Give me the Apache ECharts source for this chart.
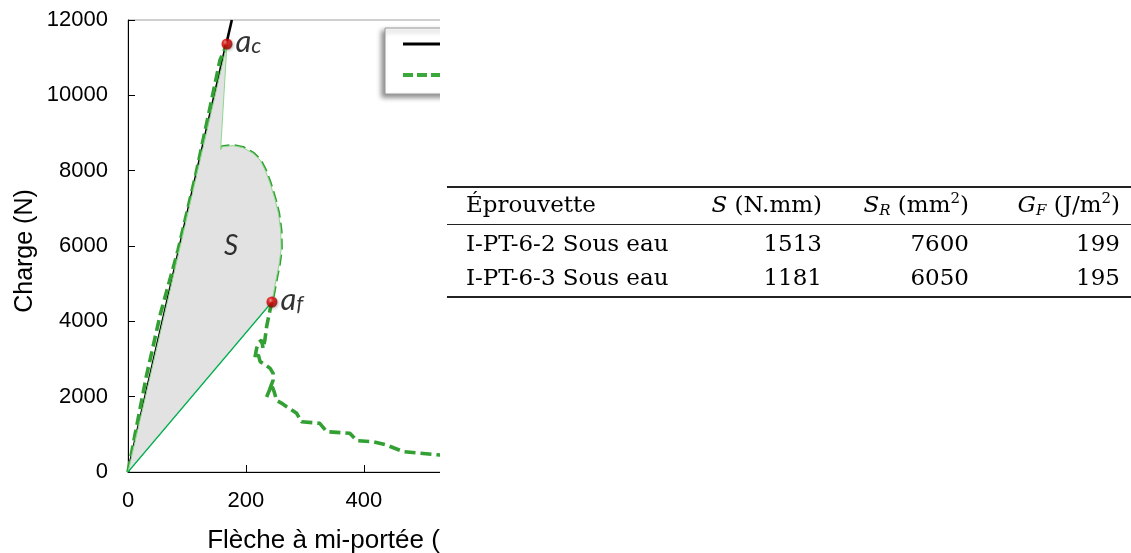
<!DOCTYPE html>
<html><head><meta charset="utf-8">
<script src="https://cdn.jsdelivr.net/npm/echarts@6/dist/echarts.min.js"></script>
<style>
html,body{margin:0;padding:0;background:#fff;}
#wrap{position:absolute;left:0;top:0;width:440px;height:553px;overflow:hidden;}
#chart{position:absolute;left:0;top:0;width:1131px;height:553px;}
#table{position:absolute;left:0;top:0;width:1131px;height:553px;font-family:'DejaVu Serif',serif;font-size:23px;color:#000;pointer-events:none;}
.rule{position:absolute;left:447px;width:684px;background:#222;}
.cell{position:absolute;white-space:nowrap;line-height:27px;}
.cell sub,.cell sup{font-size:15px;line-height:0;}
.cell sub{vertical-align:-3px;}
.cell sup{vertical-align:9px;}
</style></head><body>
<div id="wrap"><div id="chart"></div></div>
<div id="table"></div>
<script>
// ---- chart data ----
const yTickValues = [0, 2000, 4000, 6000, 8000, 10000, 12000];
const xTickValues = [0, 200, 400, 600];
const linName = 'Comportement élastique';
const linX = [0, 176];
const linY = [0, 12000];
const curveName = 'I-PT-6-2 Sous eau';
// test curve (null = break in the line)
const curveX = [0, 12, 31, 55, 85, 115, 140, 156, 162, 167.8, null, 157, 159, 178, 195, 212, 224, 233, 241, 249, 255, 259, 259.5, 256, 252, 244,
  240.7, 235, 232, 229, 226.6, 222, 218, 215, 221, 224, 234, 241, 246, 246, 243, 238, 235, 240, 244, 248, 252, 260, 269, 286, 294, 325, 337, 376, 388, 416, 438, 467, 529, 560];
const curveY = [0, 1000, 2530, 4200, 5900, 7900, 9750, 10940, 11150, 11363, null, 8550, 8630, 8665, 8610, 8460, 8280, 8000, 7660, 7250, 6870, 6400, 5900, 5500, 5190, 4513,
  4300, 3860, 3500, 3280, 3500, 3450, 3280, 3020, 3110, 2930, 2830, 2750, 2620, 2440, 2310, 2100, 1990, 2180, 2290, 2120, 1900, 1830, 1734, 1558, 1336, 1293, 1071, 1027, 832, 805, 717, 540, 451, 420];
const pointSub = ['c', 'f'];
const pointX = [167.8, 244];
const pointY = [11363, 4513];
const areaLabel = 'S';
const areaLabelX = [174.6];
const areaLabelY = [6000];

// ---- table data ----
const tableHeaders = ['Éprouvette', '<i>S</i> (N.mm)', '<i>S</i><sub><i>R</i></sub> (mm<sup>2</sup>)', '<i>G</i><sub><i>F</i></sub> (J/m<sup>2</sup>)'];
const specimens = ['I-PT-6-2 Sous eau', 'I-PT-6-3 Sous eau'];
const energyS = [1513, 1181];
const areaSR = [7600, 6050];
const fractureGF = [199, 195];

// polygon S: origin, then the curve from a_c to a_f
const iC = curveX.indexOf(pointX[0]);
const iF = curveX.indexOf(pointX[1]);
const polyX = [0].concat(curveX.slice(iC, iF + 1).filter(v => v !== null));
const polyY = [0].concat(curveY.slice(iC, iF + 1).filter(v => v !== null));

const curveData = curveX.map((x, i) => x === null ? ['-', '-'] : [x, curveY[i]]);
const linData = linX.map((x, i) => [x, linY[i]]);

const chart = echarts.init(document.getElementById('chart'), null, {renderer: 'canvas'});
const axisFont = 'Liberation Sans, Arial, sans-serif';
const labelFont = 'Lato, Carlito, sans-serif';
chart.setOption({
  animation: false,
  backgroundColor: '#fff',
  grid: {left: 128, top: 20, width: 443, height: 452, show: true, borderColor: '#a0a0a0', borderWidth: 1, containLabel: false, outerBoundsMode: 'none'},
  legend: {
    data: [
      {name: linName, lineStyle: {width: 3, color: '#000'}},
      {name: curveName, lineStyle: {width: 4, color: '#3aa83a', type: [10, 4]}}
    ],
    left: 385, top: 28, orient: 'vertical',
    itemWidth: 50, itemHeight: 14, itemGap: 11, padding: [6, 12, 9, 16],
    backgroundColor: '#fff', borderColor: '#9a9a9a', borderWidth: 1,
    shadowColor: 'rgba(0,0,0,0.45)', shadowBlur: 5, shadowOffsetX: -3, shadowOffsetY: 3,
    itemStyle: {opacity: 0},
    textStyle: {fontSize: 20, fontFamily: axisFont, color: '#000'}
  },
  xAxis: {
    type: 'value', min: xTickValues[0], max: 751, interval: xTickValues[1] - xTickValues[0],
    axisLine: {show: true, onZero: false, lineStyle: {color: '#000', width: 1}},
    axisTick: {show: true, inside: true, length: 7, lineStyle: {color: '#000'}},
    axisLabel: {fontSize: 22, color: '#000', margin: 18, fontFamily: axisFont, formatter: v => String(v)},
    splitLine: {show: false},
    name: 'Flèche à mi-portée (mm)', nameLocation: 'middle', nameGap: 56,
    nameTextStyle: {fontSize: 26, color: '#000', fontFamily: axisFont}
  },
  yAxis: {
    type: 'value', min: yTickValues[0], max: yTickValues[yTickValues.length - 1], interval: yTickValues[1] - yTickValues[0],
    axisLine: {show: true, onZero: false, lineStyle: {color: '#000', width: 1}},
    axisTick: {show: true, inside: true, length: 7, lineStyle: {color: '#000'}},
    axisLabel: {fontSize: 22, color: '#000', margin: 20, fontFamily: axisFont, formatter: v => String(v)},
    splitLine: {show: false},
    name: 'Charge (N)', nameLocation: 'middle', nameGap: 90,
    nameTextStyle: {fontSize: 25, color: '#000', fontFamily: axisFont, padding: [0, 10, 0, 0]}
  },
  series: [
    {name: linName, type: 'line', data: linData, symbol: 'none', showSymbol: false, z: 2,
     lineStyle: {color: '#000', width: 2.6}, itemStyle: {color: '#000'}},
    {name: curveName, type: 'line', data: curveData, symbol: 'none', showSymbol: false, z: 3, connectNulls: false,
     lineStyle: {color: '#33a033', width: 3.6, type: [11, 5]}, itemStyle: {color: '#33a033'}},
    {name: 'zone S', type: 'custom', z: 5, silent: true, data: [[0, 0]],
     renderItem: function (params, api) {
       const pts = polyX.map((x, i) => api.coord([x, polyY[i]]));
       const o = api.coord([0, 0]);
       const f = api.coord([pointX[1], pointY[1]]);
       return {type: 'group', children: [
         {type: 'polygon', shape: {points: pts}, style: {fill: '#e2e2e2', stroke: '#8fd88f', lineWidth: 1}},
         {type: 'line', shape: {x1: f[0], y1: f[1], x2: o[0], y2: o[1]}, style: {stroke: '#00b050', lineWidth: 1.2}}
       ]};
     }},
    {name: 'label S', type: 'scatter', z: 6, silent: true, symbolSize: 0,
     data: areaLabelX.map((x, i) => [x, areaLabelY[i]]),
     label: {show: true, position: 'inside', formatter: areaLabel, fontSize: 28, fontStyle: 'italic', fontFamily: labelFont, color: '#000'}},
    {name: 'points', type: 'scatter', z: 7, silent: true, symbol: 'circle', symbolSize: 11,
     data: pointX.map((x, i) => ({value: [x, pointY[i]], sub: pointSub[i]})),
     itemStyle: {
       color: new echarts.graphic.RadialGradient(0.38, 0.35, 0.7, [
         {offset: 0, color: '#ff9090'}, {offset: 0.35, color: '#e60000'}, {offset: 1, color: '#8a0000'}]),
       shadowColor: 'rgba(0,0,0,0.35)', shadowBlur: 3, shadowOffsetX: 1, shadowOffsetY: 1
     },
     label: {show: true, position: 'right', distance: 3, offset: [0, -2],
       formatter: p => '{a|a}{s|' + p.data.sub + '}',
       rich: {
         a: {fontSize: 31, fontStyle: 'italic', fontFamily: labelFont, color: '#000', lineHeight: 30},
         s: {fontSize: 22, fontStyle: 'italic', fontFamily: labelFont, color: '#000', lineHeight: 14, verticalAlign: 'bottom'}
       }}}
  ]
});

// ---- table ----
const tbl = document.getElementById('table');
function rule(top, h) { const d = document.createElement('div'); d.className = 'rule'; d.style.top = top + 'px'; d.style.height = h + 'px'; tbl.appendChild(d); }
function cell(html, top, left, right) {
  const d = document.createElement('div'); d.className = 'cell'; d.innerHTML = html; d.style.top = top + 'px';
  if (left !== null) d.style.left = left + 'px'; else { d.style.right = (1131 - right) + 'px'; d.style.textAlign = 'right'; }
  tbl.appendChild(d);
}
rule(186, 2); rule(224, 1); rule(296, 2);
const colRight = [null, 822, 969, 1120];
const rowTops = [191, 229.5, 263.5];
cell(tableHeaders[0], rowTops[0], 466, null);
for (let c = 1; c < 4; c++) cell(tableHeaders[c], rowTops[0], null, colRight[c]);
specimens.forEach((s, r) => {
  cell(s, rowTops[r + 1], 466, null);
  cell(String(energyS[r]), rowTops[r + 1], null, colRight[1]);
  cell(String(areaSR[r]), rowTops[r + 1], null, colRight[2]);
  cell(String(fractureGF[r]), rowTops[r + 1], null, colRight[3]);
});
</script>
</body></html>
